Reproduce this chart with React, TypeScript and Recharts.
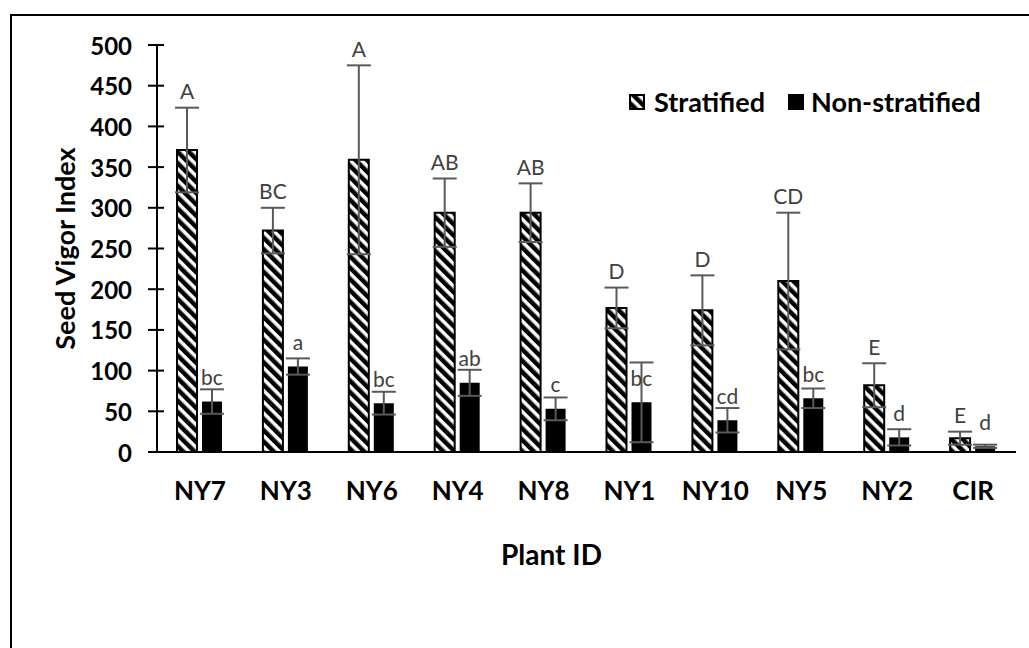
import React from 'react';
import { BarChart, Bar, XAxis, YAxis, ErrorBar, LabelList } from 'recharts';

const plants = ['NY7', 'NY3', 'NY6', 'NY4', 'NY8', 'NY1', 'NY10', 'NY5', 'NY2', 'CIR'];
const stratified = [371, 272, 359, 294, 294, 177, 174, 210, 82, 17];
const stratifiedErr = [52, 28, 116, 42, 36, 25, 43, 84, 27, 8];
const nonStratified = [62, 105, 60, 85, 53, 61, 39, 66, 18, 7];
const nonStratifiedErr = [15, 10, 14, 16, 14, 49, 15, 12, 10, 2];
const stratifiedLetters = ['A', 'BC', 'A', 'AB', 'AB', 'D', 'D', 'CD', 'E', 'E'];
const nonStratifiedLetters = ['bc', 'a', 'bc', 'ab', 'c', 'bc', 'cd', 'bc', 'd', 'd'];
const yTicks = [0, 50, 100, 150, 200, 250, 300, 350, 400, 450, 500];

const data = plants.map((p, i) => ({
  plant: p,
  s: stratified[i],
  sErr: stratifiedErr[i],
  n: nonStratified[i],
  nErr: nonStratifiedErr[i],
}));

const FONT = 'Lato, "Open Sans", sans-serif';

const YTick = (props: any) => {
  const { x, y, payload } = props;
  return (
    <g>
      <line x1={x - 9} x2={x + 7} y1={y} y2={y} stroke="#000" strokeWidth={2} />
      <text x={x - 25} y={y} textAnchor="end" dominantBaseline="central"
        style={{ fontFamily: FONT, fontWeight: 700, fontSize: 24, fill: '#000' }}>
        {payload.value}
      </text>
    </g>
  );
};

const XTick = (props: any) => {
  const { x, y, payload } = props;
  return (
    <text x={x} y={y + 38} textAnchor="middle" dominantBaseline="central"
      style={{ fontFamily: FONT, fontWeight: 700, fontSize: 26, fill: '#000' }}>
      {payload.value}
    </text>
  );
};

const upperLabel = (props: any) => {
  const { x, y, width, height, value, index } = props;
  const px = Number(height) / Number(value);
  const errTop = Number(y) - stratifiedErr[index] * px;
  return (
    <text x={Number(x) + Number(width) / 2} y={errTop - 17} textAnchor="middle" dominantBaseline="central"
      style={{ fontFamily: FONT, fontSize: 21, fill: '#404040' }}>
      {stratifiedLetters[index]}
    </text>
  );
};

const lowerLabel = (props: any) => {
  const { x, y, width, index } = props;
  return (
    <text x={Number(x) + Number(width) / 2} y={Number(y) - 25} textAnchor="middle" dominantBaseline="central"
      style={{ fontFamily: FONT, fontSize: 21, fill: '#404040' }}>
      {nonStratifiedLetters[index]}
    </text>
  );
};

const LegendBox = () => (
  <div style={{ position: 'absolute', left: 629, top: 86, display: 'flex', alignItems: 'center', fontFamily: FONT, fontWeight: 700, fontSize: 27, lineHeight: '32px', color: '#000', whiteSpace: 'nowrap' }}>
    <svg width={16} height={16} style={{ marginRight: 9 }}>
      <defs>
        <pattern id="hatchLegend" patternUnits="userSpaceOnUse" width={8} height={8} patternTransform="rotate(-45)">
          <rect x={0} y={0} width={8} height={8} fill="#fff" />
          <rect x={0} y={0} width={4.5} height={8} fill="#000" />
        </pattern>
      </defs>
      <rect x={1} y={1} width={14} height={14} fill="url(#hatchLegend)" stroke="#000" strokeWidth={2} />
    </svg>
    <span>Stratified</span>
    <svg width={16} height={16} style={{ marginLeft: 23, marginRight: 7 }}>
      <rect x={0} y={0} width={16} height={16} fill="#000" />
    </svg>
    <span>Non-stratified</span>
  </div>
);

export default function App() {
  return (
    <div style={{ position: 'absolute', left: 0, top: 0, width: 1029, height: 648, background: '#fff' }}>
      <div style={{ position: 'absolute', left: 10, top: 14, width: 1019, height: 634, borderLeft: '2px solid #000', borderTop: '2px solid #000' }} />
      <BarChart
        width={1029}
        height={648}
        data={data}
        margin={{ top: 45, right: 13, bottom: 0, left: 0 }}
        barSize={20}
        barGap={5}
        style={{ position: 'absolute', left: 0, top: 0 }}
      >
        <defs>
          <pattern id="hatch" patternUnits="userSpaceOnUse" width={8} height={8} patternTransform="rotate(-45)">
            <rect x={0} y={0} width={8} height={8} fill="#fff" />
            <rect x={0} y={0} width={4.5} height={8} fill="#000" />
          </pattern>
        </defs>
        <XAxis
          dataKey="plant"
          height={196}
          tickLine={false}
          tickSize={0}
          tickMargin={0}
          axisLine={{ stroke: '#000', strokeWidth: 2 }}
          tick={<XTick />}
          interval={0}
          label={(p: any) => {
            const vb = p.viewBox;
            return (
              <text x={vb.x + vb.width / 2 - 35} y={vb.y + 102} textAnchor="middle" dominantBaseline="central"
                style={{ fontFamily: FONT, fontWeight: 700, fontSize: 28, fill: '#000' }}>
                Plant ID
              </text>
            );
          }}
        />
        <YAxis
          width={157}
          domain={[0, 500]}
          ticks={yTicks}
          interval={0}
          tickLine={false}
          tickSize={0}
          tickMargin={0}
          axisLine={{ stroke: '#000', strokeWidth: 2 }}
          tick={<YTick />}
          label={(p: any) => {
            const vb = p.viewBox;
            const cx = 64;
            const cy = vb.y + vb.height / 2;
            return (
              <text x={cx} y={cy} transform={`rotate(-90, ${cx}, ${cy})`} textAnchor="middle" dominantBaseline="central"
                style={{ fontFamily: FONT, fontWeight: 700, fontSize: 27, fill: '#000' }}>
                Seed Vigor Index
              </text>
            );
          }}
        />
        <Bar dataKey="s" name="Stratified" fill="url(#hatch)" stroke="#000" strokeWidth={2} isAnimationActive={false}>
          <ErrorBar dataKey="sErr" width={12} stroke="#595959" strokeWidth={2} />
          <LabelList dataKey="s" content={upperLabel} />
        </Bar>
        <Bar dataKey="n" name="Non-stratified" fill="#000" isAnimationActive={false}>
          <ErrorBar dataKey="nErr" width={12} stroke="#595959" strokeWidth={2} />
          <LabelList dataKey="n" content={lowerLabel} />
        </Bar>
      </BarChart>
      <LegendBox />
    </div>
  );
}
